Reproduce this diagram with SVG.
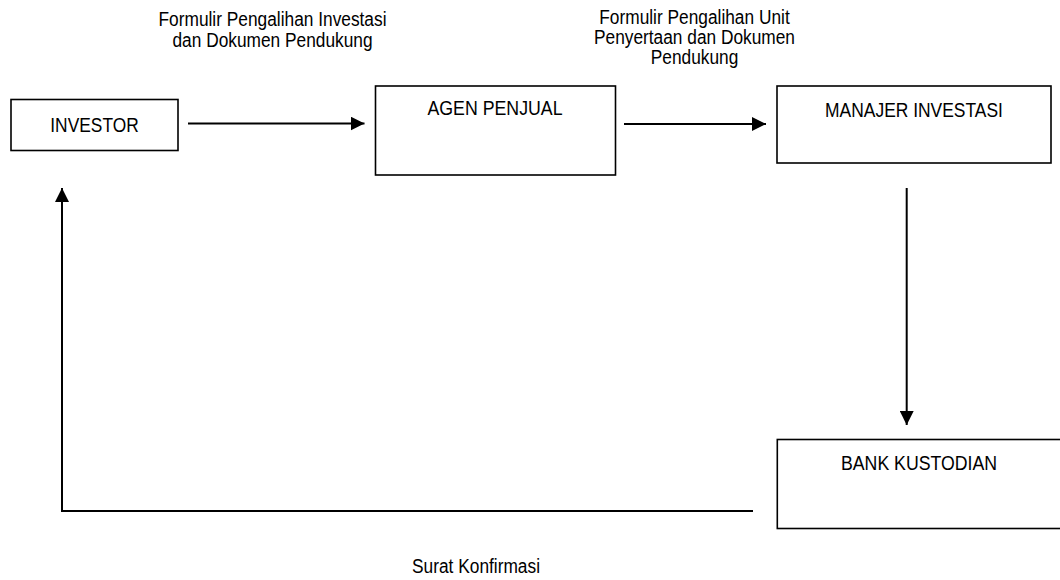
<svg xmlns="http://www.w3.org/2000/svg" width="1060" height="580" viewBox="0 0 1060 580">
<style>
.box{fill:#fff;stroke:#000;stroke-width:1.6}
.t{font-family:"Liberation Sans",Arial,sans-serif;font-size:19.5px;fill:#000;text-anchor:middle}
.c{fill:none;stroke:#000;stroke-width:2}
</style>
<defs>
<marker id="ah" viewBox="0 0 14 14" markerWidth="14" markerHeight="14" refX="14" refY="7" orient="auto" markerUnits="userSpaceOnUse">
<path d="M0,0 L14,7 L0,14 z" fill="#000"/>
</marker>
</defs>
<rect width="1060" height="580" fill="#fff"/>
<g id="investor">
<rect class="box" x="11" y="99.5" width="167" height="51"/>
<text class="t" x="94.5" y="132" textLength="88.4" lengthAdjust="spacingAndGlyphs">INVESTOR</text>
</g>
<g id="agen-penjual">
<rect class="box" x="375.5" y="86" width="240" height="89"/>
<text class="t" x="495" y="115" textLength="135" lengthAdjust="spacingAndGlyphs">AGEN PENJUAL</text>
</g>
<g id="manajer-investasi">
<rect class="box" x="777" y="86" width="274" height="77"/>
<text class="t" x="914" y="116.5" textLength="177.8" lengthAdjust="spacingAndGlyphs">MANAJER INVESTASI</text>
</g>
<g id="bank-kustodian">
<rect class="box" x="777.3" y="439.5" width="285" height="89"/>
<text class="t" x="919" y="470" textLength="156" lengthAdjust="spacingAndGlyphs">BANK KUSTODIAN</text>
</g>
<g id="connectors">
<line class="c" x1="188" y1="123.5" x2="364.5" y2="123.5" marker-end="url(#ah)"/>
<line class="c" x1="624" y1="124" x2="766" y2="124" marker-end="url(#ah)"/>
<line class="c" x1="906.7" y1="188" x2="906.7" y2="425" marker-end="url(#ah)"/>
<polyline class="c" points="753,511 62,511 62,188" marker-end="url(#ah)"/>
</g>
<g id="labels">
<text class="t" x="272.5" y="26" textLength="228" lengthAdjust="spacingAndGlyphs">Formulir Pengalihan Investasi</text>
<text class="t" x="272.5" y="47" textLength="200" lengthAdjust="spacingAndGlyphs">dan Dokumen Pendukung</text>
<text class="t" x="694.5" y="24" textLength="190.4" lengthAdjust="spacingAndGlyphs">Formulir Pengalihan Unit</text>
<text class="t" x="694.5" y="44" textLength="201" lengthAdjust="spacingAndGlyphs">Penyertaan dan Dokumen</text>
<text class="t" x="694.5" y="64" textLength="87.5" lengthAdjust="spacingAndGlyphs">Pendukung</text>
<text class="t" x="476" y="573" textLength="128" lengthAdjust="spacingAndGlyphs">Surat Konfirmasi</text>
</g>
</svg>
